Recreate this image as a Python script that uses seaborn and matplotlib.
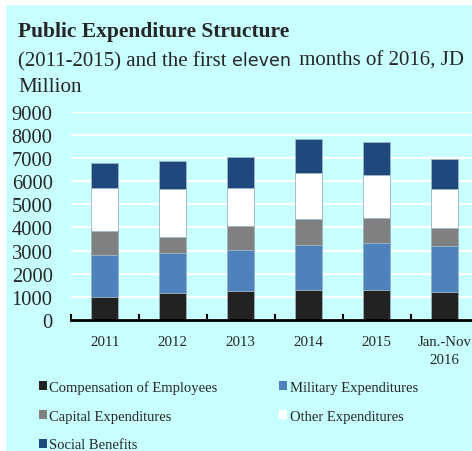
import numpy as np
import pandas as pd
import matplotlib
matplotlib.use("Agg")
import matplotlib.pyplot as plt
import seaborn as sns
from matplotlib.patches import Rectangle, Patch

# Public expenditure by component, JD million
periods = ["2011", "2012", "2013", "2014", "2015", "Jan.-Nov\n2016"]
compensation = [1000, 1150, 1240, 1300, 1310, 1220]
military = [1800, 1760, 1790, 1930, 2000, 1960]
capital = [1050, 690, 1020, 1120, 1110, 800]
other = [1840, 2050, 1640, 2020, 1850, 1670]
social = [1100, 1220, 1370, 1470, 1440, 1320]

series_names = ["Compensation of Employees", "Military Expenditures",
                "Capital Expenditures", "Other Expenditures", "Social Benefits"]
series_values = [compensation, military, capital, other, social]
series_colors = ["#222222", "#4F81BD", "#808080", "#FFFFFF", "#1F497D"]
y_ticks = [0, 1000, 2000, 3000, 4000, 5000, 6000, 7000, 8000, 9000]

BG = "#C8FFFF"
W, H = 472, 452

sns.set_theme(style="white")
plt.rcParams["font.family"] = ["Liberation Serif", "DejaVu Serif"]

fig = plt.figure(figsize=(W / 100, H / 100), dpi=100)
fig.patch.set_facecolor("white")
fig.patches.append(Rectangle((6 / W, -0.05), 1.1, 1.05 - 6 / H, transform=fig.transFigure,
                             facecolor=BG, edgecolor="none", zorder=-5))

ax = fig.add_axes([70.7 / W, 131 / H, 408 / W, 208.3 / H])
ax.set_facecolor("none")

df = pd.DataFrame({"period": periods})
for name, vals in zip(series_names, series_values):
    df[name] = vals
cum = df[series_names].cumsum(axis=1)
cum["period"] = periods

# stacked bars: draw cumulative totals from the top segment down
for name, color in reversed(list(zip(series_names, series_colors))):
    sns.barplot(data=cum, x="period", y=name, order=periods, color=color,
                saturation=1, width=0.39, errorbar=None, ax=ax,
                edgecolor="#9FB8C8", linewidth=0.6, zorder=3)

ax.set_xlim(-0.5, 5.5)
ax.set_ylim(0, 9000)
ax.set_yticks(y_ticks)
ax.set_yticklabels([str(v) for v in y_ticks], fontsize=14.8)
ax.set_xticks(range(len(periods)))
ax.set_xticklabels(periods, fontsize=10.7, linespacing=1.5)
ax.set_xticks(np.arange(-0.5, len(periods), 1), minor=True)
ax.tick_params(axis="x", which="major", length=0, pad=11)
ax.tick_params(axis="x", which="minor", direction="in", length=4, width=1.5,
               color="black", bottom=True)
ax.tick_params(axis="y", length=0, pad=13)
ax.set_xlabel("")
ax.set_ylabel("")

ax.yaxis.grid(True, color="white", linewidth=1.6)
ax.set_axisbelow(True)
for side in ["left", "right", "top"]:
    ax.spines[side].set_visible(False)
ax.spines["bottom"].set_color("black")
ax.spines["bottom"].set_linewidth(2)
ax.spines["bottom"].set_zorder(5)

# titles
fig.text(18 / W, 1 - 37 / H, "Public Expenditure Structure", fontsize=15.5,
         fontweight="bold", va="baseline", ha="left")

# subtitle: one word set in a sans face, the rest in serif
renderer = fig.canvas.get_renderer()
sub_parts = [("(2011-2015) and the first ", ["Liberation Serif"], 15.0, 0),
             ("eleven", ["DejaVu Sans"], 12.6, 3),
             (" months of 2016, JD", ["Liberation Serif"], 15.0, 0)]
x_px = 18
for text, family, size, gap in sub_parts:
    t = fig.text(x_px / W, 1 - 66 / H, text, fontsize=size, family=family,
                 va="baseline", ha="left")
    x_px = t.get_window_extent(renderer).x1 + gap
fig.text(18 / W, 1 - 92 / H, "Million", fontsize=15.2, va="baseline", ha="left")

# legend laid out row by row
handles = [Patch(facecolor=c, edgecolor="none") for c in series_colors]
order = [0, 2, 4, 1, 3]
fig.legend([handles[i] for i in order], [series_names[i] for i in order],
           loc="upper left", bbox_to_anchor=(39 / W, 1 - 381 / H), ncol=2,
           frameon=False, fontsize=10.5, handlelength=0.55, handleheight=0.6,
           handletextpad=0.15, columnspacing=4.25, labelspacing=1.08,
           borderaxespad=0, borderpad=0)

fig.savefig("out.png", dpi=100, facecolor=fig.get_facecolor())
